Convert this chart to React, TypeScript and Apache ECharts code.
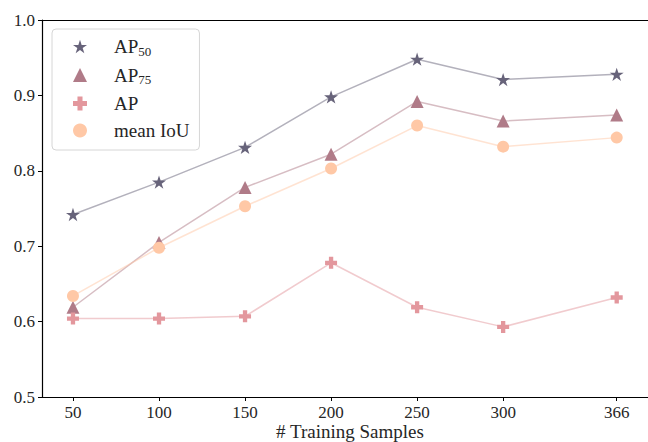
import React, { useEffect, useRef } from "react";
import * as echarts from "echarts";

const samples = [50, 100, 150, 200, 250, 300, 366];
const ap50 = [0.742, 0.785, 0.831, 0.898, 0.948, 0.921, 0.928];
const ap75 = [0.619, 0.705, 0.778, 0.822, 0.892, 0.866, 0.874];
const ap = [0.604, 0.604, 0.607, 0.678, 0.619, 0.593, 0.632];
const meanIoU = [0.634, 0.698, 0.753, 0.803, 0.860, 0.832, 0.844];
const seriesNames = ["AP50", "AP75", "AP", "mean IoU"];
const yTicks = [0.5, 0.6, 0.7, 0.8, 0.9, 1.0];

const STAR =
  "path://M50 0 L61.23 34.55 L97.55 34.55 L68.16 55.9 L79.39 90.45 L50 69.1 L20.61 90.45 L31.84 55.9 L2.45 34.55 L38.77 34.55 Z";
const PLUS = "path://M32 0 H68 V32 H100 V68 H68 V100 H32 V68 H0 V32 H32 Z";

const FONT = "'Liberation Serif', 'DejaVu Serif', serif";

export default function App() {
  const ref = useRef<HTMLDivElement>(null);
  useEffect(() => {
    if (!ref.current) return;
    const chart = echarts.init(ref.current, null, { renderer: "svg" });
    const mk = (name: string, vals: number[], color: string, symbol: string, size: number) => ({
      name,
      type: "line",
      data: samples.map((s, i) => [s, vals[i]]),
      symbol,
      symbolSize: size,
      symbolKeepAspect: true,
      itemStyle: { color, opacity: 1 },
      lineStyle: { color, width: 1.5, opacity: 0.5 },
      emphasis: { disabled: true },
      z: 3,
    });
    const legendFmt = (name: string) => {
      if (name === "AP50") return "{m|AP}{s|50}";
      if (name === "AP75") return "{m|AP}{s|75}";
      return "{m|" + name + "}";
    };
    chart.setOption({
      animation: false,
      backgroundColor: "#ffffff",
      grid: { left: 42, top: 20, bottom: 45, width: 616, containLabel: false, outerBoundsMode: "none" },
      legend: {
        left: 52,
        top: 29,
        orient: "vertical",
        padding: [8, 10, 10, 21],
        itemGap: 8,
        itemWidth: 14,
        itemHeight: 14,
        borderColor: "#d6d6d6",
        borderWidth: 1,
        borderRadius: 4,
        backgroundColor: "rgba(255,255,255,0.85)",
        formatter: legendFmt,
        textStyle: {
          fontFamily: FONT,
          fontSize: 19,
          color: "#262626",
          padding: [0, 0, 0, 22],
          rich: {
            m: { fontFamily: FONT, fontSize: 19, color: "#262626", lineHeight: 20 },
            s: { fontFamily: FONT, fontSize: 13, color: "#262626", verticalAlign: "bottom", padding: [9, 0, 0, 0] },
          },
        },
        data: [
          { name: seriesNames[0], icon: STAR },
          { name: seriesNames[1], icon: "triangle" },
          { name: seriesNames[2], icon: PLUS },
          { name: seriesNames[3], icon: "circle" },
        ],
      },
      tooltip: { show: false },
      xAxis: [
        {
          type: "value",
          min: 32,
          max: 390,
          name: "# Training Samples",
          nameLocation: "middle",
          nameGap: 26,
          nameMoveOverlap: false,
          nameTextStyle: { fontFamily: FONT, fontSize: 19, lineHeight: 16, color: "#262626", verticalAlign: "top" },
          axisLine: { show: true, lineStyle: { color: "#000", width: 1.2 } },
          axisTick: { show: true, length: 4, lineStyle: { color: "#000" }, customValues: samples },
          axisLabel: {
            fontFamily: FONT,
            fontSize: 17,
            lineHeight: 16,
            color: "#262626",
            margin: 7,
            customValues: samples,
          },
          splitLine: { show: false },
        },
        {
          type: "value",
          position: "top",
          min: 32,
          max: 390,
          axisLine: { show: true, lineStyle: { color: "#000", width: 1.2 } },
          axisTick: { show: false },
          axisLabel: { show: false },
          splitLine: { show: false },
        },
      ],
      yAxis: {
        type: "value",
        min: yTicks[0],
        max: yTicks[yTicks.length - 1],
        interval: 0.1,
        axisLine: { show: true, lineStyle: { color: "#000", width: 1.2 } },
        axisTick: { show: true, length: 4, lineStyle: { color: "#000" } },
        axisLabel: {
          fontFamily: FONT,
          fontSize: 17,
          color: "#262626",
          margin: 7,
          formatter: (v: number) => v.toFixed(1),
        },
        splitLine: { show: false },
      },
      series: [
        mk(seriesNames[0], ap50, "#67637a", STAR, 14),
        mk(seriesNames[1], ap75, "#b07b88", "triangle", 13),
        mk(seriesNames[2], ap, "#e3979d", PLUS, 12),
        mk(seriesNames[3], meanIoU, "#ffc8a6", "circle", 12),
      ],
    });
    return () => chart.dispose();
  }, []);
  return <div ref={ref} style={{ width: 648, height: 442, position: "absolute", left: 0, top: 0 }} />;
}
